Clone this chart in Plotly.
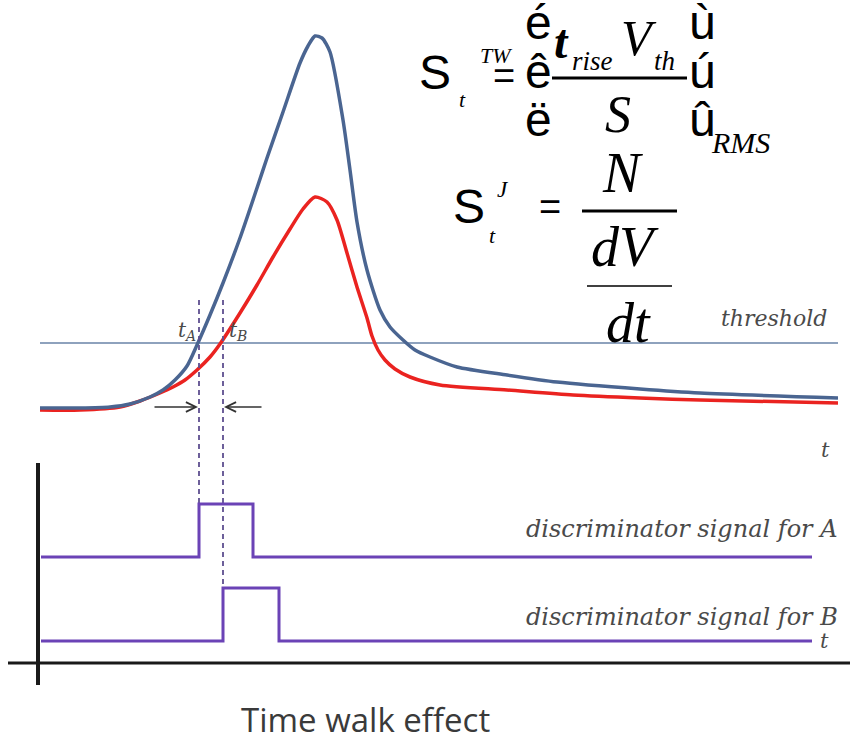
import plotly.graph_objects as go

# Canvas units: x grows to the right, y grows downward (pixel-like scale)
W, H = 850, 738

# Detector pulses: large (A) and small (B) amplitude
pulse_a_x = [40, 80, 110, 130, 150, 163, 175, 187, 197, 210, 223, 240, 257, 267, 283, 300, 308,
             315, 322, 330, 343, 350, 357, 367, 380, 390, 403, 415, 430, 457, 507, 557, 640,
             700, 838]
pulse_a_y = [408, 408, 407, 404, 397, 390, 380, 366, 345, 315, 283, 238, 188, 158, 112, 63, 46,
             36, 38, 52, 120, 170, 222, 270, 310, 327, 340, 350, 357, 367, 375, 382, 389,
             393, 398]
pulse_b_x = [40, 80, 120, 140, 160, 173, 185, 197, 210, 220, 240, 257, 273, 290, 303, 315, 327,
             337, 347, 357, 367, 372, 378, 385, 395, 410, 440, 507, 573, 640, 700, 838]
pulse_b_y = [410, 410, 407, 401, 393, 387, 380, 370, 357, 344, 313, 285, 257, 229, 209, 197, 202,
             220, 253, 287, 318, 336, 350, 360, 369, 377, 385, 390, 395, 398, 400, 403]

# Threshold level and crossing times
threshold_y = 343
t_start, t_end = 40, 838
t_cross_a, t_cross_b = 199, 223

# Discriminator outputs (step signals)
disc_a_x = [41, 199, 199, 253, 253, 812]
disc_a_y = [557, 557, 504, 504, 557, 557]
disc_b_x = [41, 223, 223, 279, 279, 812]
disc_b_y = [641, 641, 588, 588, 641, 641]

BLUE = "#4a6591"
RED = "#ea2320"
PURPLE = "#6b43b6"
GRAY_TXT = "#4a4a4a"

fig = go.Figure()

# threshold line
fig.add_trace(go.Scatter(x=[t_start, t_end], y=[threshold_y, threshold_y], mode="lines",
                         line=dict(color="#8ea2bd", width=2), hoverinfo="skip"))
# pulses
fig.add_trace(go.Scatter(x=pulse_b_x, y=pulse_b_y, mode="lines",
                         line=dict(color=RED, width=3.5, shape="spline", smoothing=0.7),
                         hoverinfo="skip"))
fig.add_trace(go.Scatter(x=pulse_a_x, y=pulse_a_y, mode="lines",
                         line=dict(color=BLUE, width=3.5, shape="spline", smoothing=0.7),
                         hoverinfo="skip"))
# dashed markers of the crossing times
fig.add_trace(go.Scatter(x=[t_cross_a, t_cross_a], y=[300, 504], mode="lines",
                         line=dict(color="#5e4f90", width=1.8, dash="5px,4px"), hoverinfo="skip"))
fig.add_trace(go.Scatter(x=[t_cross_b, t_cross_b], y=[300, 588], mode="lines",
                         line=dict(color="#5e4f90", width=1.8, dash="5px,4px"), hoverinfo="skip"))
# discriminator signals
fig.add_trace(go.Scatter(x=disc_a_x, y=disc_a_y, mode="lines",
                         line=dict(color=PURPLE, width=3), hoverinfo="skip"))
fig.add_trace(go.Scatter(x=disc_b_x, y=disc_b_y, mode="lines",
                         line=dict(color=PURPLE, width=3), hoverinfo="skip"))
# lower time axes
fig.add_trace(go.Scatter(x=[38, 38], y=[463, 685], mode="lines",
                         line=dict(color="#1a1a1a", width=4), hoverinfo="skip"))
fig.add_trace(go.Scatter(x=[8, 850], y=[663, 663], mode="lines",
                         line=dict(color="#1a1a1a", width=3), hoverinfo="skip"))

ann = []


def txt(x, y, s, size, family="Liberation Serif", color="black", xa="center", ya="middle",
        italic=False, bold=False, pad=1, yshift=0):
    if italic:
        s = "<i>" + s + "</i>"
    if bold:
        s = "<b>" + s + "</b>"
    ann.append(dict(x=x, y=y, xref="x", yref="y", text=s, showarrow=False, borderpad=pad,
                    xanchor=xa, yanchor=ya, yshift=yshift,
                    font=dict(family=family, size=size, color=color)))


# labels on the pulse plot
txt(t_cross_a - 1, 331, "t<sub>A</sub>", 20, "DejaVu Serif", GRAY_TXT, xa="right", italic=True)
txt(t_cross_b + 4, 331, "t<sub>B</sub>", 20, "DejaVu Serif", GRAY_TXT, xa="left", italic=True)
txt(829, 318, "threshold", 22, "DejaVu Serif", GRAY_TXT, xa="right", italic=True)
txt(825, 450, "t", 21, "DejaVu Serif", GRAY_TXT, italic=True)
txt(840, 529, "discriminator signal for A", 24, "DejaVu Serif", GRAY_TXT, xa="right", italic=True)
txt(840, 617, "discriminator signal for B", 24, "DejaVu Serif", GRAY_TXT, xa="right", italic=True)
txt(824, 641, "t", 21, "DejaVu Serif", GRAY_TXT, italic=True)
txt(365, 738, "Time walk effect", 33, "Open Sans", "#3a3a3a", ya="bottom", pad=0, yshift=-5)

# time-walk arrows
for head, tail in [(t_cross_a - 1, 153), (t_cross_b + 1, 263)]:
    ann.append(dict(x=head, y=407, ax=tail, ay=407, xref="x", yref="y", axref="x", ayref="y",
                    text="", showarrow=True, arrowhead=5, arrowsize=1.3, arrowwidth=1.5,
                    arrowcolor="#333333"))

# time-walk formula
txt(435, 72, "S", 48, "Liberation Sans")
txt(478, 55, "TW", 22, xa="left", italic=True)
txt(462, 99, "t", 22, italic=True)
txt(504, 76, "=", 38, "Liberation Sans")
for yy, ch in [(22, "é"), (71, "ê"), (119, "ë")]:
    txt(538, yy, ch, 48, "Liberation Sans", pad=0)
for yy, ch in [(22, "ù"), (71, "ú"), (119, "û")]:
    txt(702, yy, ch, 48, "Liberation Sans", pad=0)
txt(552, 41, "t", 48, xa="left", italic=True, bold=True)
txt(570, 61, "rise", 27, xa="left", italic=True)
txt(619, 38, "V", 50, xa="left", italic=True)
txt(652, 61, "th", 27, xa="left", italic=True)
txt(618, 114, "S", 52, italic=True)
txt(709, 142, "RMS", 30, xa="left", italic=True)

# jitter formula
txt(469, 206, "S", 48, "Liberation Sans")
txt(503, 189, "J", 23, italic=True)
txt(492, 235, "t", 22, italic=True)
txt(550, 207, "=", 38, "Liberation Sans")
txt(622, 173, "N", 56, italic=True)
txt(625, 247, "dV", 56, italic=True)
txt(628, 323, "dt", 56, italic=True)

shapes = [
    dict(type="line", xref="x", yref="y", x0=552, x1=687, y0=78, y1=78,
         line=dict(color="black", width=3)),
    dict(type="line", xref="x", yref="y", x0=582, x1=677, y0=211, y1=211,
         line=dict(color="black", width=3)),
    dict(type="line", xref="x", yref="y", x0=587, x1=672, y0=286, y1=286,
         line=dict(color="black", width=1.5)),
]

fig.update_layout(
    width=W, height=H, margin=dict(l=0, r=0, t=0, b=0),
    paper_bgcolor="white", plot_bgcolor="white", showlegend=False,
    xaxis=dict(range=[0, W], visible=False, fixedrange=True),
    yaxis=dict(range=[H, 0], visible=False, fixedrange=True),
    annotations=ann, shapes=shapes,
)

fig.write_html("out.html", config={"displayModeBar": False})
